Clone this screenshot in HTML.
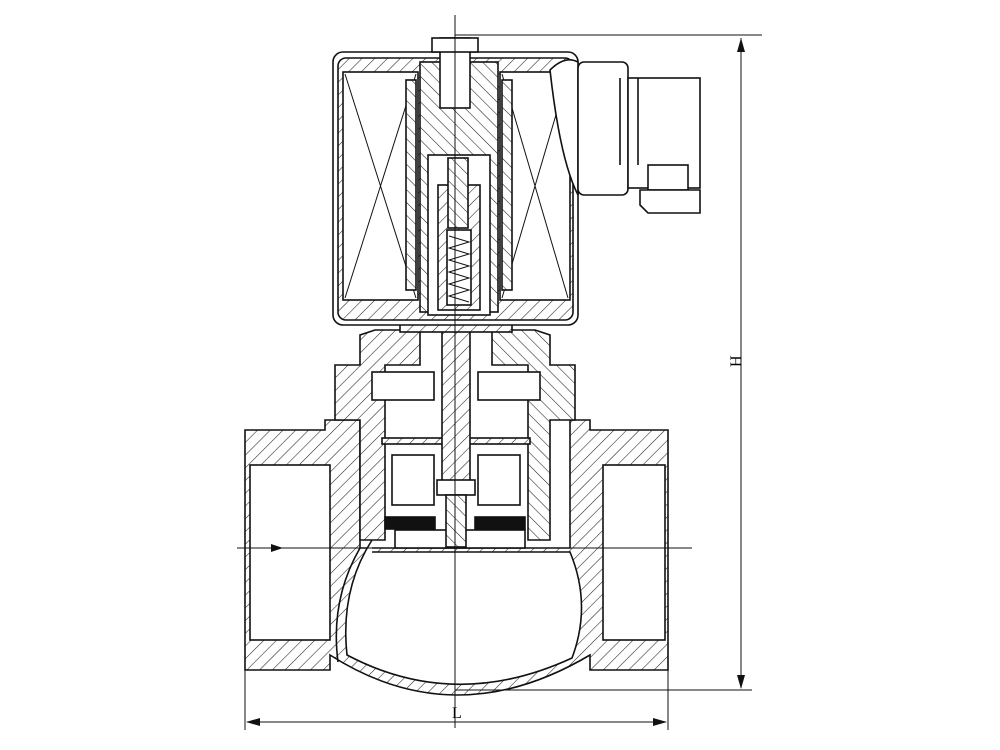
<!DOCTYPE html>
<html><head><meta charset="utf-8"><style>html,body{margin:0;padding:0;background:#fff}svg{display:block}</style></head>
<body>
<svg width="1000" height="750" viewBox="0 0 1000 750" xmlns="http://www.w3.org/2000/svg">
<defs>
<pattern id="h" width="9" height="9" patternUnits="userSpaceOnUse" patternTransform="rotate(45)">
<rect width="9" height="9" fill="#fff"/><line x1="0" y1="0" x2="0" y2="9" stroke="#222" stroke-width="1.1"/></pattern>
<pattern id="h2" width="9" height="9" patternUnits="userSpaceOnUse" patternTransform="rotate(-45)">
<rect width="9" height="9" fill="#fff"/><line x1="0" y1="0" x2="0" y2="9" stroke="#222" stroke-width="1.1"/></pattern>
</defs>
<g stroke="#111" stroke-width="1.6" fill="none">
<!-- body -->
<path d="M245 430 H325 V420 H360 V548 H570 V420 H590 V430 H668 V670 H590 V655 Q455 735 330 655 V670 H245 Z" fill="url(#h)"/>
<rect x="250" y="465" width="80" height="175" fill="#fff"/>
<rect x="603" y="465" width="62" height="175" fill="#fff"/>
<path d="M372 540 Q340 590 347 655 Q455 712 572 658 Q592 605 570 552 H372" fill="#fff"/>
<path d="M360 548 Q330 600 338 662" />
<!-- bonnet outer -->
<path d="M335 365 H360 V335 L375 330 H420 V365 H385 V540 H360 V420 H335 Z" fill="url(#h)"/>
<path d="M575 365 H550 V335 L535 330 H492 V365 H528 V540 H550 V420 H575 Z" fill="url(#h2)"/>
<rect x="372" y="372" width="62" height="28" fill="#fff"/>
<rect x="478" y="372" width="62" height="28" fill="#fff"/>
<rect x="392" y="455" width="42" height="50" fill="#fff"/>
<rect x="478" y="455" width="42" height="50" fill="#fff"/>
<rect x="382" y="438" width="148" height="6" fill="url(#h)"/>
<rect x="385" y="517" width="50" height="12" fill="#111"/>
<rect x="475" y="517" width="50" height="12" fill="#111"/>
<rect x="395" y="530" width="130" height="18" fill="#fff"/>
<!-- stem -->
<rect x="442" y="325" width="28" height="165" fill="url(#h)"/>
<rect x="437" y="480" width="38" height="15" fill="#fff"/>
<rect x="446" y="495" width="20" height="52" fill="url(#h2)"/>
<rect x="400" y="310" width="112" height="22" fill="url(#h)"/>
<!-- coil housing -->
<rect x="333" y="52" width="245" height="273" rx="10" fill="#fff"/>
<rect x="338" y="58" width="235" height="262" rx="8" fill="url(#h)"/>
<rect x="343" y="72" width="75" height="228" fill="#fff"/>
<rect x="500" y="72" width="70" height="228" fill="#fff"/>
<path d="M345 74 L416 298 M416 74 L345 298 M502 74 L568 298 M568 74 L502 298" stroke-width="1"/>
<rect x="406" y="80" width="10" height="210" fill="url(#h2)"/>
<rect x="502" y="80" width="10" height="210" fill="url(#h2)"/>
<rect x="420" y="62" width="78" height="250" fill="url(#h2)"/>
<rect x="428" y="155" width="62" height="160" fill="#fff"/>
<rect x="438" y="185" width="42" height="125" fill="url(#h)"/>
<rect x="447" y="230" width="24" height="75" fill="#fff"/>
<path d="M449 236 L469 242 L449 248 L469 254 L449 260 L469 266 L449 272 L469 278 L449 284 L469 290 L449 296 L469 302" stroke-width="1"/>
<rect x="448" y="158" width="20" height="70" fill="url(#h2)"/>
<rect x="440" y="38" width="30" height="70" fill="#fff"/>
<rect x="432" y="38" width="46" height="14" fill="#fff"/>
<!-- connector -->
<path d="M550 70 Q565 55 578 62 L578 195 Q560 160 550 70 Z" fill="#fff"/>
<rect x="578" y="62" width="50" height="133" rx="6" fill="#fff"/>
<rect x="628" y="78" width="72" height="110" fill="#fff"/>
<rect x="648" y="165" width="40" height="25" fill="#fff"/>
<path d="M640 190 H700 V213 H648 L640 205 Z" fill="#fff"/>
<path d="M620 78 V165 M638 78 V165"/>
<!-- center & dims -->
<g stroke-width="1">
<path d="M455 15 V728"/>
<path d="M237 548 H692"/>
<path d="M455 35 H762"/>
<path d="M455 690 H752"/>
<path d="M741 38 V688"/>
<path d="M245 650 V730 M668 650 V730"/>
<path d="M247 722 H666"/>
</g>
</g>
<g fill="#111">
<path d="M741 38 L737 52 L745 52 Z"/><path d="M741 689 L737 675 L745 675 Z"/>
<path d="M246 722 L260 718 L260 726 Z"/><path d="M667 722 L653 718 L653 726 Z"/>
<path d="M283 548 L271 544 L271 552 Z"/>
</g>
<text x="452" y="718" font-family="Liberation Serif, serif" font-size="16">L</text>
<text x="738" y="376" font-family="Liberation Serif, serif" font-size="16" transform="rotate(-90 735 370)">H</text>
</svg>
</body></html>
